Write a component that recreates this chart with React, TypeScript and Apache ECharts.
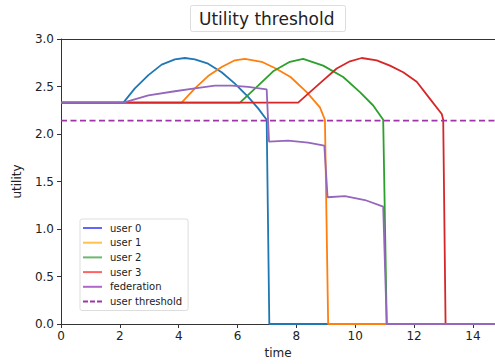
import React, { useEffect, useRef } from "react";
import * as echarts from "echarts";

const seriesNames = ["user 0", "user 1", "user 2", "user 3", "federation", "user threshold"];

const user0: [number, number][] = [
  [0, 2.33], [2.12, 2.33], [2.51, 2.48], [2.97, 2.62], [3.42, 2.73], [3.87, 2.786], [4.21, 2.8],
  [4.55, 2.786], [5.0, 2.74], [5.46, 2.65], [5.91, 2.53], [6.36, 2.39], [6.7, 2.27], [6.99, 2.15],
  [7.08, 0], [14.75, 0],
];
const user1: [number, number][] = [
  [0, 2.33], [4.1, 2.33], [4.55, 2.48], [5.0, 2.61], [5.46, 2.705], [5.91, 2.776], [6.25, 2.79],
  [6.82, 2.76], [7.3, 2.69], [7.8, 2.6], [8.35, 2.44], [8.8, 2.28], [8.97, 2.15], [9.08, 0], [14.75, 0],
];
const user2: [number, number][] = [
  [0, 2.33], [6.08, 2.33], [6.7, 2.51], [7.21, 2.66], [7.78, 2.76], [8.23, 2.79], [8.91, 2.72],
  [9.59, 2.6], [10.16, 2.44], [10.61, 2.3], [10.95, 2.15], [11.07, 0], [14.75, 0],
];
const user3: [number, number][] = [
  [0, 2.33], [8.06, 2.33], [8.46, 2.44], [8.91, 2.565], [9.37, 2.69], [9.82, 2.765], [10.22, 2.8],
  [10.73, 2.775], [11.18, 2.72], [11.63, 2.65], [12.09, 2.55], [12.54, 2.37], [12.94, 2.21],
  [12.99, 2.15], [13.07, 0], [14.75, 0],
];
const federation: [number, number][] = [
  [0, 2.33], [2.12, 2.33], [2.97, 2.407], [3.87, 2.45], [4.55, 2.48], [5.23, 2.51], [5.8, 2.51],
  [6.36, 2.495], [6.99, 2.47], [7.07, 1.92], [7.72, 1.93], [8.4, 1.91], [8.95, 1.877],
  [9.06, 1.334], [9.65, 1.347], [10.33, 1.305], [10.95, 1.235], [11.07, 0], [14.75, 0],
];
const threshold: [number, number][] = [[0, 2.14], [14.75, 2.14]];

const lineColors = ["#1f77b4", "#ff7f0e", "#2ca02c", "#d62728", "#9467bd", "#a035aa"];
const legendColors = ["#6464ff", "#ffc24d", "#6cb86c", "#ff6464", "#b066cc", "#a035aa"];

const solidIcon = "path://M0,0h19v2h-19z";
const dashedIcon = "path://M0,0h5v2h-5z M7,0h5v2h-5z M14,0h5v2h-5z";

export default function App() {
  const ref = useRef<HTMLDivElement>(null);
  useEffect(() => {
    if (!ref.current) return;
    const chart = echarts.init(ref.current, null, { renderer: "svg" });
    const datas = [user0, user1, user2, user3, federation, threshold];
    const font = "DejaVu Sans";
    chart.setOption({
      animation: false,
      backgroundColor: "#ffffff",
      title: {
        text: "Utility threshold",
        left: 190,
        top: 5,
        padding: [5, 11, 5, 9],
        backgroundColor: "#ffffff",
        borderColor: "#dddddd",
        borderWidth: 1,
        borderRadius: 2,
        textStyle: { fontFamily: font, fontSize: 17, fontWeight: "normal", color: "#222" },
      },
      legend: {
        orient: "vertical",
        left: 80,
        top: 219,
        padding: [4, 6, 4, 3],
        itemWidth: 19,
        itemHeight: 2,
        itemGap: 4.7,
        backgroundColor: "#ffffff",
        borderColor: "#dddddd",
        borderWidth: 1,
        borderRadius: 2,
        textStyle: { fontFamily: font, fontSize: 10, color: "#222", lineHeight: 10, height: 10, padding: [0, 0, 0, 3] },
        data: seriesNames.map((n, i) => ({
          name: n,
          icon: i === 5 ? dashedIcon : solidIcon,
          itemStyle: { color: legendColors[i], borderWidth: 0 },
        })),
      },
      grid: { left: 61, top: 39, right: 0, bottom: 40 },
      xAxis: [
        {
          type: "value",
          min: 0,
          max: 14.75,
          interval: 2,
          name: "time",
          nameLocation: "middle",
          nameGap: 23,
          nameTextStyle: { fontFamily: font, fontSize: 12, color: "#222" },
          axisLine: { show: true, lineStyle: { color: "#333", width: 1 } },
          axisTick: { show: true, length: 4, lineStyle: { color: "#333" } },
          axisLabel: { fontFamily: font, fontSize: 12, color: "#222", margin: 6, showMaxLabel: false },
          splitLine: { show: false },
        },
        {
          type: "value",
          position: "top",
          min: 0,
          max: 14.75,
          axisLine: { show: true, onZero: false, lineStyle: { color: "#333", width: 1 } },
          axisTick: { show: false },
          axisLabel: { show: false },
          splitLine: { show: false },
        },
      ],
      yAxis: {
        type: "value",
        min: 0,
        max: 3,
        interval: 0.5,
        name: "utility",
        nameLocation: "middle",
        nameGap: 38,
        nameTextStyle: { fontFamily: font, fontSize: 12, color: "#222" },
        axisLine: { show: true, lineStyle: { color: "#333", width: 1 } },
        axisTick: { show: true, length: 4, lineStyle: { color: "#333" } },
        axisLabel: {
          fontFamily: font,
          fontSize: 12,
          color: "#222",
          margin: 7,
          formatter: (v: number) => v.toFixed(1),
        },
        splitLine: { show: false },
      },
      series: seriesNames.map((n, i) => ({
        name: n,
        type: "line",
        xAxisIndex: 0,
        data: datas[i],
        symbol: "none",
        showSymbol: false,
        smooth: false,
        color: lineColors[i],
        lineStyle: { color: lineColors[i], width: 1.8, type: i === 5 ? [6, 3.5] : "solid" },
        itemStyle: { color: lineColors[i] },
        z: 2 + i,
      })),
    });
    return () => chart.dispose();
  }, []);
  return <div ref={ref} style={{ width: 495, height: 364, position: "absolute", left: 0, top: 0 }} />;
}
